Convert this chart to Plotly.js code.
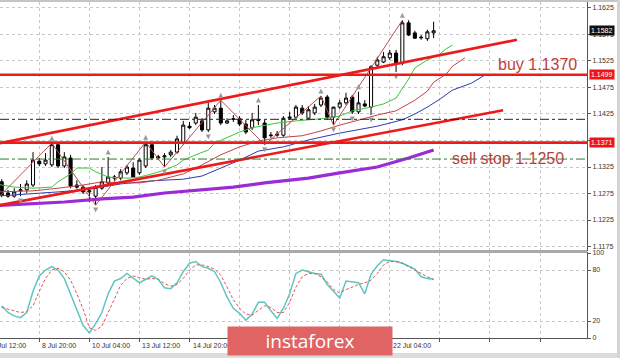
<!DOCTYPE html>
<html>
<head>
<meta charset="utf-8">
<script src="https://cdn.plot.ly/plotly-3.0.1.min.js"></script>
<style>html,body{margin:0;padding:0;background:#fff;}#chart{width:620px;height:358px;}</style>
</head>
<body>
<div id="chart"></div>
<script>
// ---- data (EURUSD H4, bar index 0 = 7 Jul 12:00) ----
const barIdx = [2,3,4,5,6,7,8,9,10,11,12,13,14,15,16,17,18,19,20,21,22,23,24,25,26,27,28,29,30,31,32,33,34,35,36,37,38,39,40,41,42,43,44,45,46,47,48,49,50,51,52,53,54,55,56,57,58,59,60,61,62,63,64,65,66,67,68,69,70,71];
const openP  = [1.1297,1.1276,1.1270,1.1280,1.1282,1.1291,1.1336,1.1331,1.1329,1.1367,1.1327,1.1342,1.1291,1.1287,1.1278,1.1270,1.1285,1.1295,1.1304,1.1304,1.1314,1.1323,1.1314,1.1327,1.1367,1.1342,1.1344,1.1348,1.1353,1.1370,1.1402,1.1408,1.1412,1.1395,1.1429,1.1436,1.1408,1.1416,1.1416,1.1406,1.1399,1.1414,1.1408,1.1384,1.1385,1.1385,1.1417,1.1419,1.1436,1.1417,1.1427,1.1442,1.1457,1.1419,1.1438,1.1446,1.1457,1.1429,1.1444,1.1438,1.1517,1.1523,1.1531,1.1540,1.1521,1.1597,1.1578,1.1570,1.1567,1.1578];
const highP  = [1.1302,1.1282,1.1285,1.1293,1.1300,1.1353,1.1342,1.1351,1.1370,1.1370,1.1353,1.1348,1.1300,1.1291,1.1285,1.1291,1.1325,1.1344,1.1310,1.1321,1.1329,1.1334,1.1342,1.1372,1.1370,1.1348,1.1351,1.1357,1.1384,1.1412,1.1410,1.1427,1.1417,1.1446,1.1442,1.1451,1.1417,1.1423,1.1421,1.1414,1.1427,1.1442,1.1414,1.1391,1.1393,1.1421,1.1429,1.1442,1.1442,1.1440,1.1444,1.1459,1.1461,1.1436,1.1451,1.1465,1.1461,1.1467,1.1451,1.1517,1.1533,1.1542,1.1546,1.1546,1.1602,1.1602,1.1582,1.1574,1.1584,1.1599];
const lowP   = [1.1268,1.1267,1.1267,1.1270,1.1276,1.1287,1.1327,1.1327,1.1325,1.1323,1.1323,1.1285,1.1284,1.1274,1.1259,1.1253,1.1282,1.1291,1.1299,1.1300,1.1310,1.1304,1.1310,1.1323,1.1338,1.1338,1.1325,1.1344,1.1350,1.1367,1.1397,1.1404,1.1391,1.1391,1.1425,1.1404,1.1406,1.1410,1.1402,1.1387,1.1395,1.1404,1.1367,1.1380,1.1382,1.1382,1.1414,1.1416,1.1423,1.1414,1.1423,1.1438,1.1414,1.1404,1.1434,1.1442,1.1425,1.1425,1.1438,1.1423,1.1514,1.1521,1.1527,1.1504,1.1517,1.1572,1.1567,1.1565,1.1563,1.1568];
const closeP = [1.1272,1.1270,1.1278,1.1282,1.1293,1.1338,1.1331,1.1338,1.1367,1.1327,1.1344,1.1289,1.1287,1.1278,1.1280,1.1287,1.1297,1.1306,1.1306,1.1316,1.1325,1.1306,1.1338,1.1367,1.1342,1.1344,1.1346,1.1353,1.1378,1.1404,1.1399,1.1419,1.1395,1.1436,1.1436,1.1408,1.1412,1.1415,1.1406,1.1391,1.1414,1.1413,1.1380,1.1385,1.1387,1.1417,1.1419,1.1438,1.1427,1.1433,1.1438,1.1455,1.1419,1.1438,1.1446,1.1455,1.1429,1.1446,1.1440,1.1514,1.1527,1.1533,1.1540,1.1521,1.1597,1.1574,1.1568,1.1569,1.1580,1.1582];

// Alligator lines
const lipsIdx = [1,4,7,10,11,13,14,16,17,19,22,24,26,28,30,31,33,35,36,38,40,42,44,46,49,51,54,56,58,61,63,65,66,67,68,70,72,73,74];
const lipsVal = [1.1293,1.1287,1.1285,1.1287,1.1297,1.1312,1.1323,1.1323,1.1316,1.1306,1.1304,1.1306,1.1312,1.1319,1.1329,1.1338,1.1348,1.1357,1.1370,1.1381,1.1391,1.1399,1.1404,1.1408,1.1412,1.1414,1.1417,1.1421,1.1431,1.1438,1.1444,1.1455,1.1472,1.1491,1.1512,1.1527,1.1538,1.1548,1.1555];
const teethIdx = [1,7,11,15,18,21,24,27,31,34,37,40,43,46,50,53,56,59,62,65,66,68,70,71,73,74,76];
const teethVal = [1.1278,1.1280,1.1285,1.1291,1.1297,1.1295,1.1295,1.1300,1.1312,1.1329,1.1348,1.1363,1.1374,1.1380,1.1384,1.1393,1.1404,1.1414,1.1423,1.1431,1.1438,1.1451,1.1468,1.1485,1.1500,1.1515,1.1531];
const jawIdx = [1,7,11,16,21,26,31,34,37,40,43,47,51,56,62,66,68,70,72,74,77,79];
const jawVal = [1.1270,1.1274,1.1278,1.1283,1.1293,1.1299,1.1302,1.1308,1.1323,1.1338,1.1355,1.1363,1.1376,1.1389,1.1402,1.1414,1.1425,1.1438,1.1453,1.1470,1.1483,1.1497];
const maLongIdx = [1,7,12,18,23,28,34,39,44,51,56,62,67,71];
const maLongVal = [1.1252,1.1255,1.1259,1.1265,1.1268,1.1276,1.1282,1.1287,1.1295,1.1304,1.1314,1.1325,1.1342,1.1357];

// ZigZag pivots and fractals
const zigIdx = [1,10,17,25,28,37,44,53,55,66];
const zigVal = [1.1262,1.1370,1.1253,1.1372,1.1325,1.1451,1.1367,1.1459,1.1404,1.1602];
const fracUpIdx = [10,19,25,37,43,53,59,66];
const fracDnIdx = [5,17,28,35,44,55,58,61,65];

// Trend lines and levels
const trendUpIdx = [1.7,84.3];   const trendUpVal = [1.1370,1.1565];
const trendLoIdx = [1.7,82.1];   const trendLoVal = [1.1253,1.1432];
const levelRed = [1.1499,1.1371];
const levelBlackDash = 1.1415;
const levelGreenDash = 1.1340;
const lastPrice = 1.1582;

// Stochastic
const stochK = [38,30,26,24,30,55,73,80,84,80,70,52,35,15,6,17,30,52,67,70,76,70,65,69,73,69,59,58,65,78,88,90,84,82,78,65,48,35,29,21,28,42,42,32,23,35,52,76,80,78,76,75,63,55,47,67,66,65,52,75,85,92,91,90,88,84,81,72,70,69];
const stochD = [36,34,32,30,31,38,55,70,80,82,78,68,52,34,12,9,14,30,47,62,70,73,71,69,70,69,64,61,63,70,80,86,86,84,81,74,60,45,35,28,27,33,38,36,30,30,42,60,72,76,76,72,66,57,53,57,60,63,65,68,76,86,90,90,88,84,79,75,72,69];

// Axis labels (labels hidden by the watermark in the reference are not listed)
const priceTicks = [1.1175,1.1225,1.1275,1.1325,1.1375,1.1425,1.1475,1.1525,1.1575,1.1625];
const timeTickIdx = [0,8,16,24,32,64];
const timeTickText = ['7 Jul 12:00','8 Jul 20:00','10 Jul 04:00','13 Jul 12:00','14 Jul 20:00','22 Jul 04:00'];
const gridIdx = [8,16,24,32,40,48,56,64,72,80,88];

// ---- layout constants ----
const X0 = 1.725, X1 = 95.5;
const Y0 = 1.11684, Y1 = 1.16363;
const FONT = 'Liberation Sans, Arial, sans-serif';

const upY = fracUpIdx.map(i => highP[barIdx.indexOf(i)] + 0.0014);
const dnY = fracDnIdx.map(i => lowP[barIdx.indexOf(i)] - 0.0014);

const traces = [
  {type:'scatter', mode:'lines', x:maLongIdx, y:maLongVal, line:{color:'#9a2bd6', width:3.2}, hoverinfo:'skip'},
  {type:'scatter', mode:'lines', x:jawIdx, y:jawVal, line:{color:'#2c3cb0', width:1}, hoverinfo:'skip'},
  {type:'scatter', mode:'lines', x:teethIdx, y:teethVal, line:{color:'#c84040', width:1}, hoverinfo:'skip'},
  {type:'scatter', mode:'lines', x:lipsIdx, y:lipsVal, line:{color:'#3cc43c', width:1}, hoverinfo:'skip'},
  {type:'scatter', mode:'lines', x:zigIdx, y:zigVal, line:{color:'#b85050', width:1}, hoverinfo:'skip'},
  {type:'candlestick', x:barIdx, open:openP, high:highP, low:lowP, close:closeP,
   increasing:{line:{color:'#000', width:1}, fillcolor:'#ffffff'},
   decreasing:{line:{color:'#000', width:1}, fillcolor:'#000000'},
   whiskerwidth:0, hoverinfo:'skip'},
  {type:'scatter', mode:'lines', x:trendUpIdx, y:trendUpVal, line:{color:'#ee1a1a', width:2.6}, hoverinfo:'skip'},
  {type:'scatter', mode:'lines', x:trendLoIdx, y:trendLoVal, line:{color:'#ee1a1a', width:2.6}, hoverinfo:'skip'},
  {type:'scatter', mode:'markers', x:fracUpIdx, y:upY, marker:{symbol:'arrow-up', size:5, color:'#9a9a9a'}, hoverinfo:'skip'},
  {type:'scatter', mode:'markers', x:fracDnIdx, y:dnY, marker:{symbol:'arrow-down', size:5, color:'#9a9a9a'}, hoverinfo:'skip'},
  {type:'scatter', mode:'lines', x:barIdx, y:stochK, xaxis:'x2', yaxis:'y2', line:{color:'#5ec6c0', width:1.5}, hoverinfo:'skip'},
  {type:'scatter', mode:'lines', x:barIdx, y:stochD, xaxis:'x2', yaxis:'y2', line:{color:'#e05555', width:1, dash:'3px,2px'}, hoverinfo:'skip'}
];

const py = p => (338 - p) / 336; // pixel row -> paper (plot area 2..338)

const shapes = [];
levelRed.forEach(v => shapes.push({type:'line', xref:'paper', x0:0, x1:1, yref:'y', y0:v, y1:v, line:{color:'#ee1a1a', width:2.6}, layer:'above'}));
shapes.push({type:'line', xref:'paper', x0:0, x1:1, yref:'y', y0:levelBlackDash, y1:levelBlackDash, line:{color:'#222', width:1, dash:'dashdot'}, layer:'above'});
shapes.push({type:'line', xref:'paper', x0:0, x1:1, yref:'y', y0:levelGreenDash, y1:levelGreenDash, line:{color:'#2e7d32', width:1, dash:'dashdot'}, layer:'above'});
// panel separator and frame
shapes.push({type:'rect', xref:'paper', yref:'paper', x0:0, x1:1, y0:py(253), y1:py(250), fillcolor:'#a8a8a8', line:{width:0}, layer:'above'});
shapes.push({type:'rect', xref:'paper', yref:'paper', x0:0, x1:620/587, y0:py(358), y1:py(353), fillcolor:'#dcdcdc', line:{width:0}, layer:'above'});
shapes.push({type:'rect', xref:'paper', yref:'paper', x0:0, x1:620/587, y0:py(2), y1:py(0), fillcolor:'#c4c4c4', line:{width:0}, layer:'above'});
shapes.push({type:'rect', xref:'paper', yref:'paper', x0:617/587, x1:620/587, y0:py(358), y1:py(0), fillcolor:'#d4d4d4', line:{width:0}, layer:'above'});

const annotations = [];
timeTickIdx.forEach((t, k) => annotations.push({
  xref:'paper', yref:'paper', x:(t - X0)/(X1 - X0), y:py(345), xanchor:'left', yanchor:'middle', xshift:1,
  text:timeTickText[k], showarrow:false, font:{family:FONT, size:7, color:'#333'}
}));
// watermark (drawn after the tick labels so it covers them, as in the reference)
annotations.push({xref:'paper', yref:'paper', x:310/587, y:py(341), xanchor:'center', yanchor:'middle',
  width:164, height:28, bgcolor:'#e06464', borderpad:0, align:'center', valign:'middle',
  text:'instaforex', showarrow:false, font:{family:'Open Sans, sans-serif', size:19, color:'#ffffff'}});
// price boxes
annotations.push({xref:'paper', x:1, xanchor:'left', xshift:2, yref:'y', y:lastPrice, text:lastPrice.toFixed(4), showarrow:false,
  bgcolor:'#111', borderpad:1, font:{family:FONT, size:7, color:'#fff'}});
levelRed.forEach(v => annotations.push({xref:'paper', x:1, xanchor:'left', xshift:2, yref:'y', y:v, text:v.toFixed(4), showarrow:false,
  bgcolor:'#f01414', borderpad:1, font:{family:FONT, size:7, color:'#fff'}}));
// order texts
annotations.push({xref:'paper', x:537/587, xanchor:'center', yref:'y', y:1.1519, yanchor:'middle', text:'buy 1.1370', showarrow:false,
  font:{family:'Liberation Sans, Arial, sans-serif', size:16, color:'#c53a3a'}});
annotations.push({xref:'paper', x:508/587, xanchor:'center', yref:'y', y:1.1341, yanchor:'middle', text:'sell stop 1.1250', showarrow:false,
  font:{family:'Liberation Sans, Arial, sans-serif', size:16, color:'#b8403c'}});

const gridStyle = {showgrid:true, gridcolor:'#c9c9c9', griddash:'dot', gridwidth:1};
const layout = {
  width:620, height:358,
  margin:{l:0, r:33, t:2, b:20, pad:0},
  paper_bgcolor:'#ffffff', plot_bgcolor:'#ffffff',
  showlegend:false,
  xaxis:Object.assign({domain:[0,1], anchor:'y', range:[X0, X1], tickmode:'array', tickvals:gridIdx, showticklabels:false,
    ticks:'', zeroline:false, showline:true, mirror:true, linecolor:'#555', linewidth:1, rangeslider:{visible:false}, fixedrange:true}, gridStyle),
  xaxis2:Object.assign({domain:[0,1], anchor:'y2', range:[X0, X1], tickmode:'array', tickvals:gridIdx, showticklabels:false,
    ticks:'outside', ticklen:3, tickcolor:'#555', zeroline:false, showline:true, mirror:true, linecolor:'#555', linewidth:1}, gridStyle),
  yaxis:Object.assign({domain:[py(250), 1], anchor:'x', side:'right', range:[Y0, Y1], tickmode:'array', tickvals:priceTicks, tickformat:'.4f',
    ticks:'outside', ticklen:3, tickcolor:'#555', tickfont:{family:FONT, size:7, color:'#333'},
    zeroline:false, showline:true, mirror:true, linecolor:'#555', linewidth:1}, gridStyle),
  yaxis2:Object.assign({domain:[0, py(253)], anchor:'x2', side:'right', range:[0, 100], tickmode:'array', tickvals:[0,20,80,100],
    ticks:'outside', ticklen:3, tickcolor:'#555', tickfont:{family:FONT, size:7, color:'#333'},
    zeroline:false, showline:true, mirror:true, linecolor:'#555', linewidth:1}, gridStyle),
  shapes:shapes,
  annotations:annotations
};

Plotly.newPlot('chart', traces, layout, {staticPlot:true, displayModeBar:false});
</script>
</body>
</html>
